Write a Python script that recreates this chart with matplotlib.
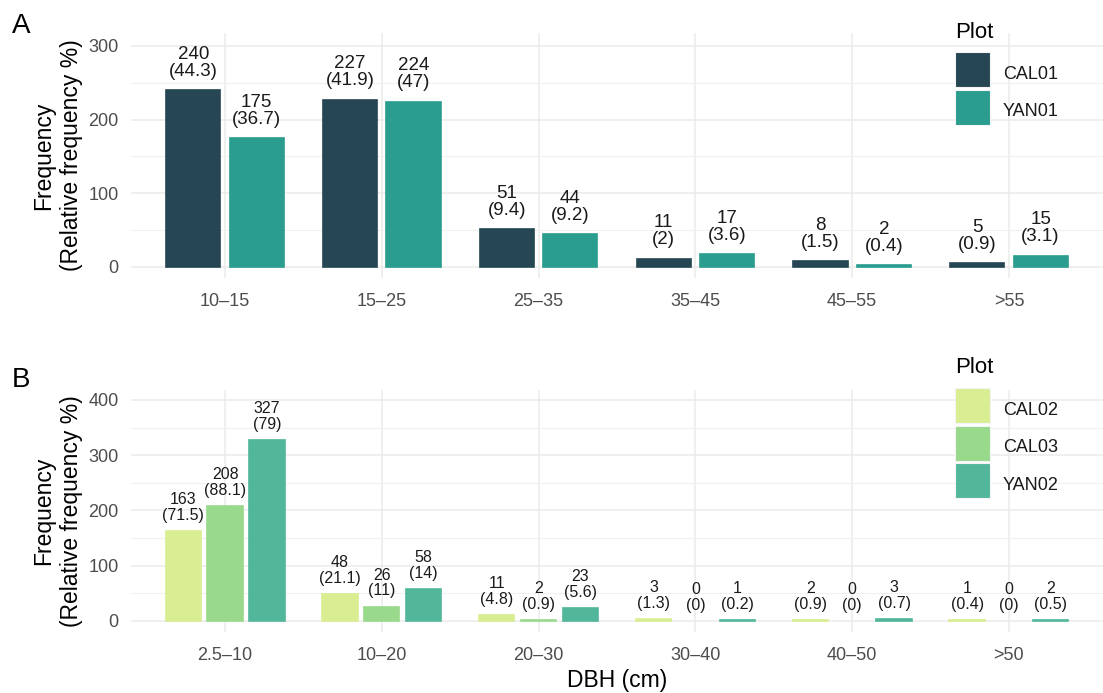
import matplotlib
matplotlib.use('Agg')
import matplotlib.pyplot as plt
import numpy as np
from matplotlib.patches import Rectangle

plt.rcParams['font.family'] = ['Liberation Sans', 'DejaVu Sans']

# panel A: stem counts by DBH class (relative frequency in brackets)
classes_a = ['10–15', '15–25', '25–35', '35–45', '45–55', '>55']
plots_a = ['CAL01', 'YAN01']
counts_a = {
    'CAL01': [240, 227, 51, 11, 8, 5],
    'YAN01': [175, 224, 44, 17, 2, 15],
}
rel_a = {
    'CAL01': ['44.3', '41.9', '9.4', '2', '1.5', '0.9'],
    'YAN01': ['36.7', '47', '9.2', '3.6', '0.4', '3.1'],
}
colors_a = ['#264653', '#2A9D8F']

# panel B
classes_b = ['2.5–10', '10–20', '20–30', '30–40', '40–50', '>50']
plots_b = ['CAL02', 'CAL03', 'YAN02']
counts_b = {
    'CAL02': [163, 48, 11, 3, 2, 1],
    'CAL03': [208, 26, 2, 0, 0, 0],
    'YAN02': [327, 58, 23, 1, 3, 2],
}
rel_b = {
    'CAL02': ['71.5', '21.1', '4.8', '1.3', '0.9', '0.4'],
    'CAL03': ['88.1', '11', '0.9', '0', '0', '0'],
    'YAN02': ['79', '14', '5.6', '0.2', '0.7', '0.5'],
}
colors_b = ['#D9ED92', '#99D98C', '#52B69A']

W, H = 1103, 693
fig = plt.figure(figsize=(W / 100, H / 100), dpi=100)


def fx(px):
    return px / W


def fy(px):
    return 1 - px / H


def px_axes(left, top, right, bottom):
    return fig.add_axes([fx(left), fy(bottom), (right - left) / W, (bottom - top) / H])


def style_axes(ax, ylim, major, minor):
    ax.set_xlim(0.4, 6.6)
    ax.set_ylim(*ylim)
    ax.set_yticks(major)
    ax.set_yticks(minor, minor=True)
    for s in ax.spines.values():
        s.set_visible(False)
    ax.grid(True, which='major', color='#EBEBEB', linewidth=1.1)
    ax.grid(True, which='minor', axis='y', color='#F0F0F0', linewidth=0.8)
    ax.set_axisbelow(True)
    ax.tick_params(length=0, labelsize=13, labelcolor='#4D4D4D')
    ax.tick_params(axis='y', pad=9)
    ax.tick_params(axis='x', pad=10.5)
    ax.tick_params(which='minor', length=0)
    ax.set_ylabel('Frequency\n(Relative frequency %)', fontsize=16.5, linespacing=1.25)
    ax.yaxis.set_label_coords((83 - 131) / 972, 0.5)


def draw_bars(ax, classes, plots, counts, rel, colors, step, width, fsize, offset, lsp):
    x = np.arange(1, len(classes) + 1)
    n = len(plots)
    for i, p in enumerate(plots):
        xs = x + (i - (n - 1) / 2) * step
        lw = [1.2 if c > 0 else 0 for c in counts[p]]
        ax.bar(xs, counts[p], width=width, color=colors[i], edgecolor=colors[i],
               linewidth=lw)
        for xi, c, r in zip(xs, counts[p], rel[p]):
            ax.annotate('%d\n(%s)' % (c, r), (xi, c), xytext=(0, offset),
                        textcoords='offset points', ha='center', va='bottom',
                        fontsize=fsize, color='#1A1A1A', linespacing=lsp)
    ax.set_xticks(x)
    ax.set_xticklabels(classes)


def draw_legend(left, title_base, key_top, plots, colors):
    fig.text(fx(left), fy(title_base), 'Plot', fontsize=16, va='baseline', ha='left')
    for i, (p, c) in enumerate(zip(plots, colors)):
        top = key_top + i * 37.5
        fig.add_artist(Rectangle((fx(left), fy(top + 35)), 35 / W, 35 / H,
                                 transform=fig.transFigure, facecolor=c,
                                 edgecolor='#F4F4F4', linewidth=0.8))
        fig.text(fx(left + 48), fy(top + 27), p, fontsize=13,
                 va='baseline', ha='left', color='#1A1A1A')


ax_a = px_axes(131, 33, 1103, 278)
style_axes(ax_a, (-15.1, 317.5), [0, 100, 200, 300], [50, 150, 250])
draw_bars(ax_a, classes_a, plots_a, counts_a, rel_a, colors_a,
          0.404, 0.345, 13.5, 7.5, 1.0)

ax_b = px_axes(131, 390, 1103, 632)
style_axes(ax_b, (-20, 418), [0, 100, 200, 300, 400], [50, 150, 250, 350])
draw_bars(ax_b, classes_b, plots_b, counts_b, rel_b, colors_b,
          0.267, 0.225, 11.5, 6, 1.05)
ax_b.set_xlabel('DBH (cm)', fontsize=16.5, labelpad=4)

draw_legend(955, 38, 52, plots_a, colors_a)
draw_legend(955, 373, 388, plots_b, colors_b)

fig.text(fx(12), fy(33), 'A', fontsize=20, va='baseline', ha='left')
fig.text(fx(12), fy(387), 'B', fontsize=20, va='baseline', ha='left')

fig.savefig('out.png', dpi=100)
